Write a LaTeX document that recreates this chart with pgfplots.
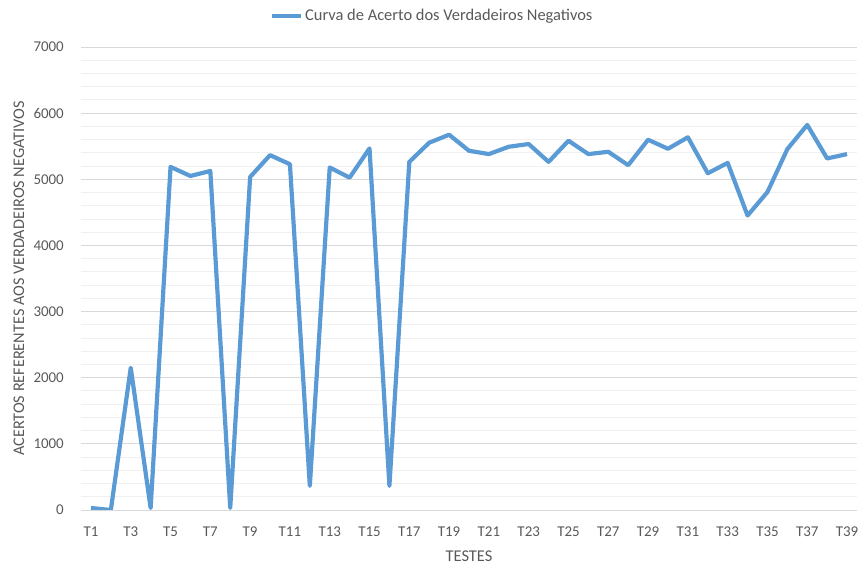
\documentclass[border=0pt]{standalone}
\usepackage{pgfplots}
\pgfplotsset{compat=1.18}
\usepackage{fontspec}
\setmainfont{Carlito}
\definecolor{txt}{HTML}{595959}
\definecolor{majg}{HTML}{D9D9D9}
\definecolor{ming}{HTML}{F0F0F0}
\definecolor{serie}{HTML}{5B9BD5}
\begin{document}
\begin{tikzpicture}
\path (0,0) rectangle (861bp,565bp);
\begin{axis}[
  at={(81bp,55bp)}, anchor=south west,
  width=776bp, height=463bp, scale only axis,
  xmin=0.5, xmax=39.5, ymin=0, ymax=7000,
  axis line style={draw=none},
  ytick={0,1000,...,7000},
  minor ytick={200,400,...,6800},
  ymajorgrids, yminorgrids,
  major grid style={draw=majg, line width=0.9pt},
  minor grid style={draw=ming, line width=0.9pt},
  xtick={1,3,...,39},
  xticklabel={T\pgfmathparse{int(\tick)}\pgfmathresult},
  major tick length=0pt, minor tick length=0pt,
  /pgf/number format/assume math mode=true,
  /pgf/number format/1000 sep={},
  tick label style={font=\fontsize{15}{16}\selectfont, text=txt},
  yticklabel style={anchor=east, inner sep=0pt, xshift=-17bp},
  xticklabel style={anchor=base, inner sep=0pt, yshift=-26.5bp},
  ylabel={ACERTOS REFERENTES AOS VERDADEIROS NEGATIVOS},
  ylabel style={at={(axis description cs:0,0.5)}, anchor=center, yshift=62bp,
    font=\fontsize{16.3}{18}\selectfont, text=txt},
  xlabel={TESTES},
  xlabel style={at={(axis description cs:0.5,0)}, anchor=base, yshift=-52bp,
    font=\fontsize{16.5}{18}\selectfont, text=txt},
  legend style={at={(axis description cs:0,1)}, anchor=west, yshift=31bp, xshift=189bp,
    draw=none, fill=none, font=\fontsize{16.5}{18}\selectfont, text=txt,
    inner sep=0pt, outer sep=0pt},
  legend cell align=left,
  legend image code/.code={\draw[#1] (0bp,0bp) -- (29bp,0bp);},
]
\addplot[serie, line width=4.2pt, line join=round] coordinates {
(1,30) (2,0) (3,2150) (4,30) (5,5187) (6,5050) (7,5126) (8,30) (9,5035) (10,5365)
(11,5228) (12,365) (13,5178) (14,5025) (15,5467) (16,365) (17,5263) (18,5553) (19,5674) (20,5431)
(21,5381) (22,5492) (23,5533) (24,5263) (25,5583) (26,5381) (27,5416) (28,5213) (29,5598) (30,5461)
(31,5635) (32,5091) (33,5248) (34,4452) (35,4807) (36,5457) (37,5822) (38,5315) (39,5381)
};
\addlegendentry{Curva de Acerto dos Verdadeiros Negativos}
\end{axis}
\end{tikzpicture}
\end{document}
